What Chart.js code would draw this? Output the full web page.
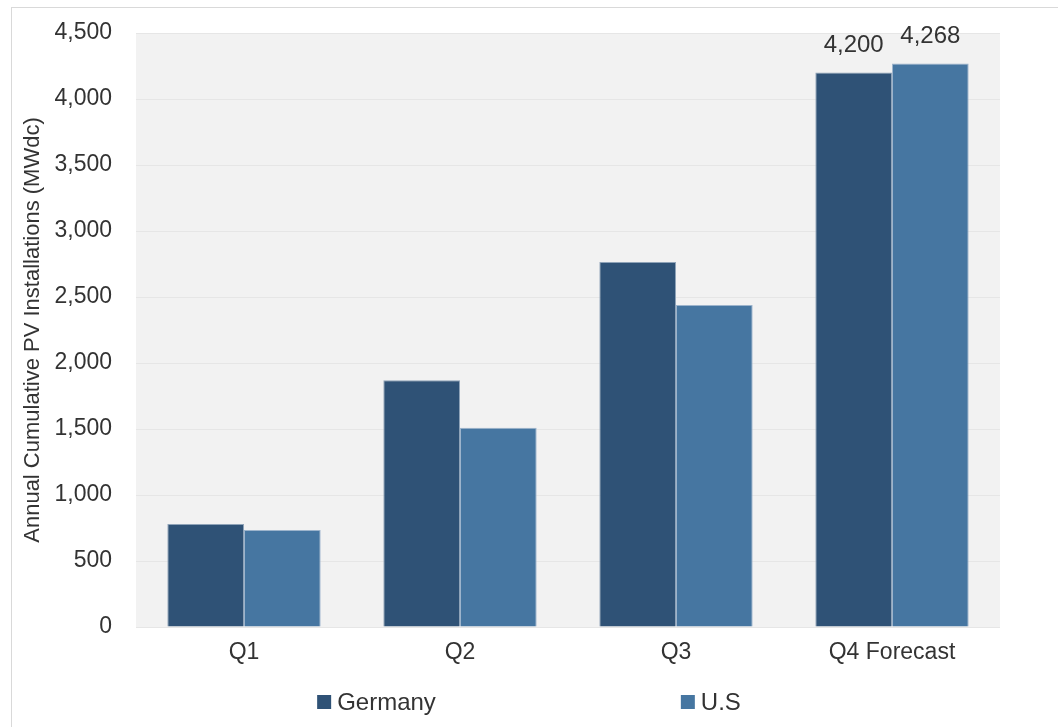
<!DOCTYPE html>
<html>
<head>
<meta charset="utf-8">
<script src="https://cdn.jsdelivr.net/npm/chart.js@4.4.1/dist/chart.umd.min.js"></script>
<style>
  html, body { margin: 0; padding: 0; background: #fff; }
  #frame { position: absolute; left: 11px; top: 7px; width: 1060px; height: 740px; border: 1px solid #d9d9d9; box-sizing: border-box; }
  #wrap { position: absolute; left: 0; top: 0; width: 1058px; height: 727px; }
</style>
</head>
<body>
<div id="frame"></div>
<div id="wrap"><canvas id="pvChart" width="1058" height="727"></canvas></div>
<script>
const quarters = ['Q1', 'Q2', 'Q3', 'Q4 Forecast'];
const germany = [780, 1870, 2765, 4200];
const us = [735, 1510, 2440, 4268];
const yTicks = [0, 500, 1000, 1500, 2000, 2500, 3000, 3500, 4000, 4500];

const FONT = "'Liberation Sans Narrow', 'Arial Narrow', 'Liberation Sans', Arial, sans-serif";
const TEXT = '#333333';

// grey fill behind the plot
const plotBackground = {
  id: 'plotBackground',
  beforeDraw(chart) {
    const { ctx, chartArea: a } = chart;
    ctx.save();
    ctx.fillStyle = '#f2f2f2';
    ctx.fillRect(a.left, a.top, a.right - a.left, a.bottom - a.top);
    ctx.restore();
  }
};

// value labels over the forecast bars only
const forecastLabels = {
  id: 'forecastLabels',
  afterDatasetsDraw(chart) {
    const { ctx } = chart;
    const last = quarters.length - 1;
    ctx.save();
    ctx.font = '24px ' + FONT;
    ctx.fillStyle = TEXT;
    ctx.textAlign = 'center';
    ctx.textBaseline = 'bottom';
    chart.data.datasets.forEach((ds, i) => {
      const bar = chart.getDatasetMeta(i).data[last];
      ctx.fillText(ds.data[last].toLocaleString('en-US'), bar.x, bar.y - 15);
    });
    ctx.restore();
  }
};

// spread-out legend under the x axis
const wideLegend = {
  id: 'wideLegend',
  afterDraw(chart) {
    const { ctx } = chart;
    const gap = 245, box = 14, textGap = 6, y = 702;
    ctx.save();
    ctx.font = '24px ' + FONT;
    const items = chart.data.datasets.map(ds => ({
      label: ds.label, color: ds.backgroundColor,
      w: box + textGap + ctx.measureText(ds.label).width
    }));
    const total = items.reduce((s, it) => s + it.w, 0) + gap * (items.length - 1);
    let x = chart.width / 2 - total / 2;
    ctx.textBaseline = 'middle';
    items.forEach(it => {
      ctx.fillStyle = it.color;
      ctx.fillRect(x, y - box / 2, box, box);
      ctx.fillStyle = TEXT;
      ctx.fillText(it.label, x + box + textGap, y + 1);
      x += it.w + gap;
    });
    ctx.restore();
  }
};

new Chart(document.getElementById('pvChart'), {
  type: 'bar',
  data: {
    labels: quarters,
    datasets: [
      { label: 'Germany', data: germany, backgroundColor: '#2f5276', borderColor: '#8fa3b8', borderWidth: 1 },
      { label: 'U.S', data: us, backgroundColor: '#4676a1', borderColor: '#9db4cc', borderWidth: 1 }
    ]
  },
  options: {
    responsive: false,
    animation: false,
    layout: { padding: { top: 33, right: 58, left: 20, bottom: 0 } },
    datasets: { bar: { categoryPercentage: 0.71, barPercentage: 1 } },
    plugins: {
      legend: { display: false },
      tooltip: { enabled: false }
    },
    scales: {
      x: {
        grid: { display: false },
        border: { display: false },
        ticks: { color: TEXT, font: { family: FONT, size: 23 }, padding: 4 },
        afterFit(scale) { scale.height = 100; }
      },
      y: {
        min: 0,
        max: 4500,
        afterBuildTicks(scale) { scale.ticks = yTicks.map(v => ({ value: v })); },
        grid: { color: '#e6e6e6', lineWidth: 1, drawTicks: false },
        border: { display: false },
        ticks: {
          color: TEXT,
          font: { family: FONT, size: 23 },
          padding: 24,
          callback: v => v.toLocaleString('en-US')
        },
        title: {
          display: true,
          text: 'Annual Cumulative PV Installations (MWdc)',
          color: TEXT,
          font: { family: FONT, size: 22 },
          padding: 0
        },
        afterFit(scale) {
          scale.width = 116;
          scale.paddingTop = 0;
          scale.paddingBottom = 0;
        }
      }
    }
  },
  plugins: [plotBackground, forecastLabels, wideLegend]
});
</script>
</body>
</html>
